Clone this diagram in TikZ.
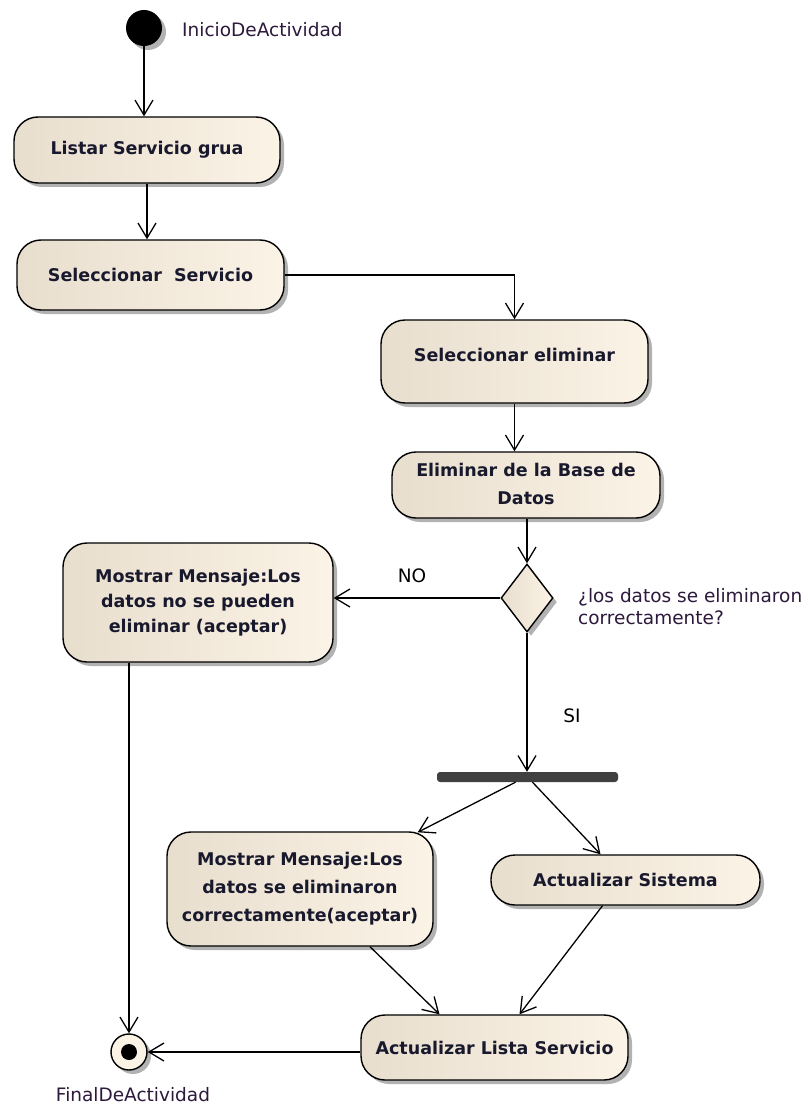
\documentclass[tikz,border=0pt]{standalone}
\usepackage{fontspec}
\setmainfont{DejaVu Sans}
\usetikzlibrary{arrows.meta,shapes.geometric,shadows,calc}
\definecolor{boxL}{RGB}{232,222,206}
\definecolor{boxR}{RGB}{251,243,230}
\definecolor{txt}{RGB}{25,25,45}
\definecolor{lbl}{RGB}{45,25,60}
\definecolor{barc}{RGB}{64,64,64}
\begin{document}
\begin{tikzpicture}[x=1pt,y=-1pt,
  shad/.style={drop shadow={shadow xshift=4pt,shadow yshift=-4pt,fill=black,opacity=0.3}},
  act/.style={draw,line width=1.4pt,rounded corners=24pt,left color=boxL,right color=boxR,shad,
    font=\fontsize{17.5}{27}\selectfont\bfseries,text=txt,align=center,inner sep=0pt},
  arr/.style={draw,line width=1.3pt,-{Straight Barb[length=15pt,width=18pt]}},
  lbltext/.style={font=\fontsize{18.5}{22}\selectfont,text=lbl,inner sep=0pt}]
\fill[white] (0,0) rectangle (807,1107);
\useasboundingbox (0,0) rectangle (807,1107);

% start / end
\node[circle,fill=black,minimum size=36pt,inner sep=0pt,shad] (start) at (144,28) {};
\node[lbltext,anchor=west] (startlbl) at (182,30) {InicioDeActividad};
\node[circle,draw,line width=1.4pt,fill=boxR,minimum size=36pt,inner sep=0pt,shad] (fin) at (129,1052) {};
\node[circle,fill=black,minimum size=16pt,inner sep=0pt] (findot) at (fin) {};
\node[lbltext] (finlbl) at (133,1095) {FinalDeActividad};

% activities
\node[act,minimum width=266pt,minimum height=66pt] (b1) at (147,150) {Listar Servicio grua};
\node[act,minimum width=267pt,minimum height=70pt] (b2) at (150.5,275) {Seleccionar\ \ Servicio};
\node[act,minimum width=267pt,minimum height=83pt] (b3) at (514.5,361.5) {\raisebox{13pt}{Seleccionar eliminar}};
\node[act,minimum width=268pt,minimum height=66pt] (b4) at (526,485) {\raisebox{-6pt}{\begin{tabular}{@{}c@{}}Eliminar de la Base de\\[1pt]Datos\end{tabular}}};
\node[act,minimum width=270pt,minimum height=119pt,font=\fontsize{17.5}{25}\selectfont\bfseries] (b5) at (198,602.5) {Mostrar Mensaje:Los\\datos no se pueden\\eliminar (aceptar)};
\node[act,minimum width=266pt,minimum height=114pt,font=\fontsize{17.5}{28}\selectfont\bfseries] (b6) at (300,889) {Mostrar Mensaje:Los\\datos se eliminaron\\correctamente(aceptar)};
\node[act,minimum width=269pt,minimum height=50pt] (b7) at (625.5,880) {Actualizar Sistema};
\node[act,minimum width=267pt,minimum height=65pt] (b8) at (494.5,1047.5) {Actualizar Lista Servicio};

% decision and fork
\node[diamond,draw,line width=1.4pt,left color=boxL,right color=boxR,minimum width=52pt,minimum height=68pt,inner sep=0pt,shad] (dec) at (527,598) {};
\node[lbltext,anchor=west,align=left] (declbl) at (578,607) {¿los datos se eliminaron\\correctamente?};
\node[fill=barc,rounded corners=3pt,minimum width=181pt,minimum height=10pt,inner sep=0pt] (fork) at (527.5,777) {};

% connectors
\draw[arr] (start.south) -- (start.south |- b1.north);
\draw[arr] (b1.south) -- (b1.south |- b2.north);
\draw[arr] (b2.east) -| (b3.north);
\draw[arr] (b3.south) -- (b3.south |- b4.north);
\draw[arr] (dec.north |- b4.south) -- (dec.north);
\draw[arr] (dec.west) -- (dec.west -| b5.east);
\node[lbltext,text=black] (nolbl) at (412,576) {NO};
\draw[arr] (fin.north |- b5.south) -- (fin.north);
\draw[arr] (dec.south) -- (dec.south |- fork.north);
\node[lbltext,text=black] (silbl) at (572,716) {SI};
\draw[arr] ($(fork.south)+(-12,0)$) -- ($(b6.north east)+(-16,1)$);
\draw[arr] ($(fork.south)+(5,0)$) -- ($(b7.north)+(-25,0)$);
\draw[arr] ($(b6.south)+(70,0)$) -- ($(b8.north)+(-55,0)$);
\draw[arr] ($(b7.south)+(-23,0)$) -- ($(b8.north)+(25,0)$);
\draw[arr] (fin.east -| b8.west) -- (fin.east);
\end{tikzpicture}
\end{document}
